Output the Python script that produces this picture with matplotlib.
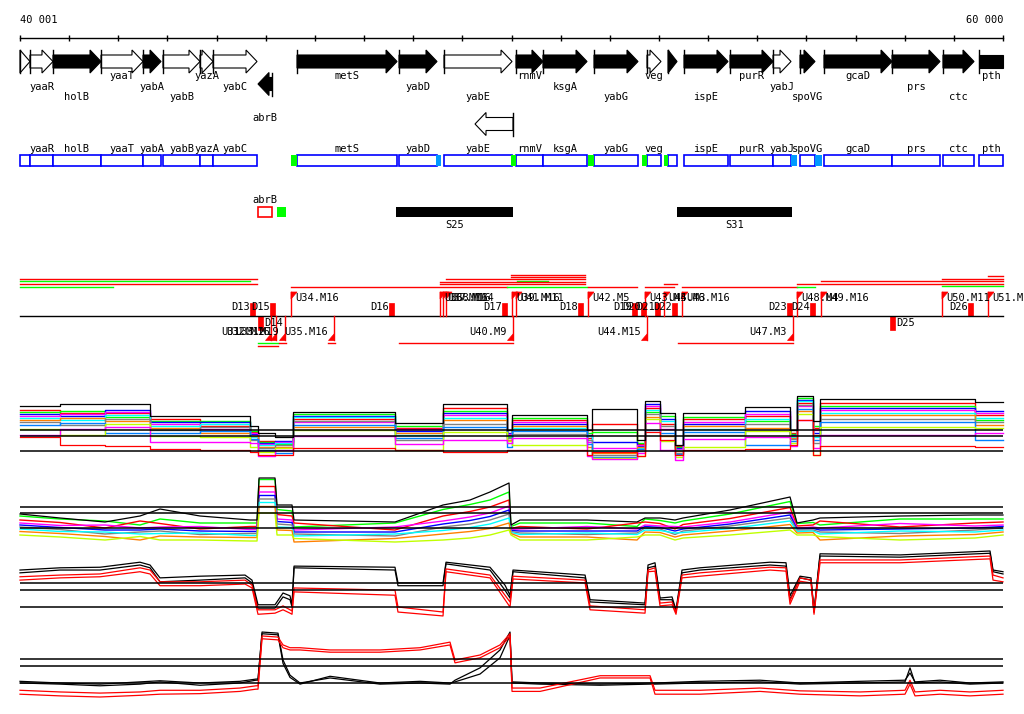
import matplotlib
matplotlib.use('Agg')
import matplotlib.pyplot as plt
from matplotlib.patches import Polygon, Rectangle

# region shown (bp) and visible x range
START, END = 40001, 60000
XMIN, XMAX = 39594, 60427

# ---------------- genes ----------------
gene_name = ['', 'yaaR', 'holB', 'yaaT', 'yabA', 'yabB', 'yazA', 'yabC', 'abrB',
             'metS', 'yabD', 'yabE', '', 'rnmV', 'ksgA', 'yabG', 'veg', '', 'ispE',
             'purR', 'yabJ', 'spoVG', 'gcaD', 'prs', 'ctc', 'pth']
gene_start = [40001, 40204, 40672, 41649, 42503, 42910, 43663, 43928, 44843,
              45637, 47712, 48627, 49258, 50092, 50641, 51679, 52757, 53185, 53510,
              54446, 55321, 55870, 56358, 57742, 58779, 59512]
gene_end = [40204, 40672, 41649, 42503, 42870, 43663, 43928, 44823, 45128,
            47672, 48485, 50011, 50031, 50641, 51537, 52574, 53042, 53368, 54405,
            55321, 55687, 56175, 57742, 58718, 59410, 60300]
gene_strand = [1, 1, 1, 1, 1, 1, 1, 1, -1, 1, 1, 1, -1, 1, 1, 1, 1, 1, 1,
               1, 1, 1, 1, 1, 1, 1]
gene_open = [True, True, False, True, False, True, True, True, False,
             False, False, True, True, False, False, False, True, False, False,
             False, True, False, False, False, False, False]
gene_lane = [0, 0, 0, 0, 0, 0, 0, 0, 1, 0, 0, 0, 2, 0, 0, 0, 0, 0, 0,
             0, 0, 0, 0, 0, 0, 0]
gene_label_row = [0, 1, 2, 0, 1, 2, 0, 1, 3, 0, 1, 2, 0, 0, 1, 2, 0, 1, 2,
                  0, 1, 2, 0, 1, 2, 0]

# small coloured marks on the gene-box row
mark_start = [45515, 49990, 51557, 52656, 53103, 48465, 55687, 56175]
mark_end = [45637, 50092, 51679, 52757, 53185, 48566, 55809, 56318]
mark_color = ['#00ff00', '#00ff00', '#00ff00', '#00ff00', '#00ff00',
              '#0099ff', '#0099ff', '#0099ff']

# segments
seg_name = ['S25', 'S31']
seg_start = [47651, 53368]
seg_end = [50031, 55708]

# transcription-unit lines: (y row, start, end, colour)
tu_lines = [(279, 40001, 44823, 'red'), (281, 40001, 44680, 'lime'),
            (284, 40001, 44823, 'red'), (287, 40001, 41893, 'lime'),
            (275, 49990, 51497, 'red'), (277, 49990, 51497, 'red'),
            (279, 48668, 51497, 'red'), (281, 50112, 50743, 'lime'),
            (282, 48546, 51497, 'red'), (284, 48546, 51497, 'red'),
            (287, 45515, 49909, 'red'), (287, 49909, 51537, 'lime'),
            (287, 51557, 52554, 'red'), (287, 52717, 53307, 'red'),
            (284, 53103, 53368, 'red'), (287, 53469, 55809, 'red'),
            (287, 55809, 56175, 'lime'), (284, 55809, 60000, 'red'),
            (281, 56297, 60000, 'red'), (279, 58759, 60000, 'red'),
            (276, 59695, 60000, 'red'), (286, 58759, 60000, 'lime'),
            (343, 44843, 45250, 'lime'), (346, 44843, 45250, 'red'),
            (343, 45270, 45413, 'red'), (343, 46266, 46409, 'red'),
            (343, 47712, 50031, 'red'), (343, 53388, 55728, 'red')]

up_name = ['U34.M16', 'U36.M16', 'U37.M16', 'U38.M14', 'U39.M16', 'U41.M11', 'U42.M5',
           'U43.M4', 'U45.M3', 'U46.M16', 'U48.M4', 'U49.M16', 'U50.M11', 'U51.M16']
up_pos = [45515, 48546, 48607, 48668, 50011, 50092, 51557,
          52717, 53103, 53469, 55809, 56297, 58759, 59695]
down_name = ['U31.M12', 'U32.M16', 'U33.M19', 'U35.M16', 'U40.M9', 'U44.M15', 'U47.M3']
down_pos = [45108, 45209, 45392, 46389, 50031, 52757, 55728]
dup_name = ['D13', 'D15', 'D16', 'D17', 'D18', 'D19', 'D20', 'D21', 'D22', 'D23', 'D24', 'D26']
dup_pos = [44680, 45087, 47508, 49807, 51354, 52452, 52635, 52920, 53266, 55605, 56073, 59288]
ddown_name = ['D14', 'D25']
ddown_pos = [44843, 57701]

# ---------------- expression profiles ----------------
# track A: step profiles between these boundaries
a_x = [40001, 40815, 41730, 42646, 43663, 44680, 44843, 45189, 45555, 47630, 48607,
       49909, 50011, 51537, 51638, 52554, 52717, 53022, 53327, 53490, 54751, 55667,
       55809, 56135, 56277, 59430, 60000]
a_top = [9.0, 9.4, 9.4, 7.0, 7.0, 5.0, 3.6, 2.8, 7.8, 5.6, 9.4, 4.2, 7.2, 4.2, 8.4, 2.2,
         10.0, 7.6, 1.2, 7.6, 8.8, 4.2, 11.0, 6.0, 10.4, 9.8]
a_low = [2.8, 1.2, 1.0, 0.4, 0.2, -0.2, -0.8, -0.8, 0.6, 0.2, -0.2, 0.2, 0.2, -0.8, -0.2,
         -1.0, 3.8, 2.2, -0.8, 0.2, 0.4, 1.2, 6.2, -0.8, 1.0, 0.8]
a_lines = [
    [8.2, 7.7, 7.6, 6.5, 5.1, 3.9, 2.1, 1.8, 6.5, 4.7, 8.6, 3.3, 6.2, 2.6, 5.4, 1.5, 8.7, 5.5, 1.1, 6.4, 7.0, 3.7, 9.7, 4.6, 9.6, 7.2],
    [7.9, 8.1, 6.9, 6.1, 6.1, 4.1, 1.9, 1.4, 7.5, 5.1, 8.1, 2.8, 6.6, 3.7, 3.9, 1.7, 7.9, 7.0, 0.9, 6.8, 6.0, 3.5, 10.7, 5.0, 9.1, 6.3],
    [7.5, 7.0, 8.3, 5.8, 5.8, 3.4, 1.7, 2.1, 7.1, 4.0, 7.7, 3.7, 5.4, 3.3, 1.9, 1.1, 9.4, 6.5, 0.7, 5.5, 8.0, 3.3, 10.3, 3.7, 8.7, 8.0],
    [7.1, 7.4, 7.9, 5.4, 4.4, 3.6, 1.4, 1.9, 5.8, 4.4, 7.2, 3.5, 5.8, 1.9, 0.7, 1.3, 9.1, 4.4, 0.5, 5.9, 7.5, 3.1, 9.0, 4.2, 8.2, 7.6],
    [6.7, 6.2, 7.2, 5.1, 5.5, 2.8, 1.2, 1.6, 6.8, 3.2, 6.7, 3.1, 4.6, 3.0, 0.0, 0.7, 8.3, 6.0, 0.2, 4.5, 6.5, 2.9, 10.0, 2.8, 7.7, 6.7],
    [6.3, 6.6, 6.0, 4.7, 3.6, 3.1, 0.9, 0.9, 4.8, 3.6, 6.2, 2.3, 5.0, 0.9, -0.4, 0.9, 6.9, 3.0, 0.0, 5.0, 4.7, 2.7, 8.0, 3.3, 7.2, 5.2],
    [5.8, 5.2, 6.5, 4.2, 4.8, 2.2, 0.6, 1.2, 6.1, 2.2, 5.5, 2.6, 3.4, 2.3, -0.8, 0.1, 7.4, 5.0, -0.3, 3.3, 5.4, 2.4, 9.3, 1.6, 6.5, 5.8],
    [5.3, 5.7, 3.6, 3.7, 4.0, 2.5, 0.3, -0.4, 5.3, 2.7, 4.8, 0.8, 4.0, 1.4, -1.1, 0.4, 4.2, 3.7, -0.6, 3.9, 1.2, 2.1, 8.5, 2.2, 5.8, 2.2],
    [4.5, 3.2, 5.5, 3.0, 2.9, 0.8, -0.2, 0.6, 4.2, 0.2, 3.9, 2.0, 1.2, 0.2, -1.4, -1.0, 6.4, 2.0, -1.1, 0.8, 4.0, 1.7, 7.4, -0.8, 4.9, 4.6],
    [3.2, 4.5, 4.8, 1.8, 1.8, 1.7, -1.0, 0.3, 3.0, 1.4, 2.2, 1.6, 2.6, -1.0, -1.6, -0.3, 5.6, 0.2, -1.8, 2.4, 2.9, 1.0, 6.2, 0.7, 3.2, 3.7],
]
a_colors = ['#ff0000', '#00ff00', '#0000ff', '#ff00ff', '#00ffff', '#ff8000',
            '#808080', '#0080ff', '#c0ff00', '#ff00ff']

# track B: polyline points
b_x = [40001, 40815, 41730, 42442, 42849, 43663, 44680, 44823, 44864, 45189, 45230,
       45535, 45576, 47630, 48607, 49156, 49563, 49950, 49990, 50174, 51537, 52554,
       52717, 53022, 53327, 53490, 54446, 55667, 55809, 56135, 56277, 57905, 59430, 60000]
b_top = [2.8, 2.0, 1.2, 2.4, 3.8, 2.4, 1.6, 1.6, 10.0, 10.0, 4.6, 4.6, 1.6, 1.2, 4.6, 5.6,
         7.2, 9.0, 0.6, 1.6, 1.6, 1.2, 2.0, 2.0, 1.6, 2.0, 3.6, 6.2, 1.0, 1.6, 2.0, 2.4, 2.6, 2.6]
b_lines = [
    [2.4, 1.8, 1.4, 0.6, 1.8, 1.0, 1.0, 1.0, 9.7, 9.7, 3.7, 3.4, 0.2, 1.0, 3.7, 4.7, 5.6, 7.2, 0.3, 1.0, 1.0, 0.3, 1.8, 1.5, 1.0, 1.4, 2.8, 5.3, 0.9, 1.1, 0.6, 1.8, 1.8, 1.8],
    [1.6, 1.1, 0.0, 1.4, 0.9, -0.2, 0.3, 0.3, 8.3, 8.3, 2.7, 2.4, 1.0, -0.4, 2.4, 3.3, 4.2, 5.6, -0.1, 0.3, -0.2, 1.0, 1.2, 0.9, -0.2, 0.7, 1.9, 4.1, 0.4, 0.6, 1.4, 0.2, 1.0, 1.2],
    [1.0, 0.5, 0.6, 0.0, 0.2, 0.3, -0.3, -0.3, 7.2, 7.2, 1.8, 1.6, -0.4, 0.2, 1.4, 2.2, 3.0, 4.4, -0.3, -0.2, 0.3, -0.2, 0.6, 0.4, 0.3, 0.2, 1.2, 3.2, 0.0, 0.2, 0.0, 0.9, 0.4, 0.6],
    [0.6, 0.1, -0.4, -0.4, -0.2, -0.6, -0.7, -0.7, 6.5, 6.5, 1.3, 1.1, -0.8, -0.8, 0.8, 1.5, 2.3, 3.6, -0.5, -0.6, -0.6, -0.6, 0.3, 0.1, -0.6, -0.2, 0.8, 2.6, -0.2, -0.1, -0.4, -0.2, 0.0, 0.3],
    [0.2, -0.3, -1.2, -0.8, -0.6, -1.3, -1.1, -1.1, 5.8, 5.8, 0.8, 0.6, -1.2, -1.6, 0.2, 0.8, 1.6, 2.8, -0.7, -1.0, -1.3, -1.0, 0.0, -0.2, -1.3, -0.6, 0.4, 2.0, -0.4, -0.4, -0.8, -1.1, -0.4, 0.0],
    [-0.2, -0.7, -0.8, -1.2, -1.1, -1.0, -1.5, -1.5, 5.1, 5.1, 0.2, 0.1, -1.6, -1.2, -0.5, 0.1, 0.8, 2.0, -0.9, -1.3, -1.0, -1.3, -0.4, -0.5, -1.0, -0.9, -0.1, 1.4, -0.7, -0.6, -1.2, -0.6, -0.8, -0.4],
    [-0.7, -1.1, -1.7, -2.4, -1.6, -1.8, -1.9, -1.9, 4.3, 4.3, -0.4, -0.5, -2.8, -2.1, -1.2, -0.7, -0.1, 1.0, -1.1, -1.8, -1.8, -2.4, -0.8, -0.9, -1.8, -1.4, -0.6, 0.7, -1.0, -0.9, -2.4, -1.6, -1.3, -0.8],
    [-1.4, -1.8, -2.4, -1.7, -2.4, -2.4, -2.6, -2.6, 3.0, 3.0, -1.4, -1.4, -2.1, -2.8, -2.4, -2.0, -1.4, -0.4, -1.4, -2.4, -2.4, -1.8, -1.4, -1.4, -2.4, -2.0, -1.4, -0.4, -1.4, -1.4, -1.7, -2.4, -2.0, -1.4],
]
b_colors = ['#00ff00', '#ff0000', '#ff00ff', '#0000ff', '#808080', '#00ffff',
            '#ff8000', '#c0ff00']

# track C
c_x = [40001, 40815, 41629, 42442, 42646, 42849, 43663, 44579, 44721, 44843, 45189,
       45352, 45494, 45535, 45576, 47630, 47691, 48607, 48668, 49563, 49868, 49970,
       50031, 51497, 51598, 52717, 52778, 52920, 53022, 53266, 53347, 53469, 53835,
       55259, 55585, 55667, 55870, 56094, 56155, 56277, 57905, 59736, 59797, 60000]
c_black1 = [6.6, 7.0, 7.1, 8.0, 7.5, 5.2, 5.5, 5.7, 4.8, 0.4, 0.4, 2.5, 2.0, 0.4, 7.3,
            7.1, 4.3, 4.3, 8.0, 7.1, 3.9, 2.1, 6.6, 5.7, 1.3, 0.7, 7.5, 7.9, 1.6, 1.8,
            -0.5, 6.6, 7.0, 8.0, 7.9, 2.0, 5.5, 5.2, -0.7, 9.5, 9.3, 10.0, 6.6, 6.3]
c_black2 = [6.1, 6.6, 6.6, 7.5, 7.0, 4.5, 4.8, 5.2, 4.3, -0.2, -0.2, 1.8, 1.3, 0.0, 7.0,
            6.6, 3.8, 3.8, 7.7, 6.6, 3.0, 1.6, 6.3, 5.2, 0.9, 0.4, 7.0, 7.3, 1.3, 1.3,
            -0.9, 6.1, 6.6, 7.5, 7.3, 1.3, 5.2, 4.8, -0.9, 9.1, 8.9, 9.6, 6.3, 5.9]
c_red1 = [5.4, 5.7, 5.9, 7.0, 6.6, 4.5, 4.5, 4.8, 3.9, -0.5, -0.5, 0.2, -0.5, -0.7, 3.4,
          3.0, 0.0, -0.9, 6.8, 5.7, 2.1, 0.9, 5.5, 4.8, 0.2, -0.5, 6.6, 7.0, 0.7, 0.9,
          -0.9, 5.7, 6.1, 7.1, 7.0, 1.1, 5.2, 4.8, -0.9, 8.4, 8.4, 9.1, 5.7, 5.2]
c_red2 = [4.8, 5.2, 5.4, 6.3, 5.9, 3.8, 3.8, 4.1, 3.4, -1.3, -1.1, -0.5, -1.1, -1.3, 2.7,
          2.1, -0.9, -1.6, 6.3, 5.2, 1.3, 0.0, 5.0, 4.3, -0.5, -1.1, 6.3, 6.4, 0.2, 0.4,
          -1.3, 5.2, 5.5, 6.6, 6.4, 0.5, 4.6, 4.3, -1.3, 7.9, 7.9, 8.6, 4.8, 4.5]

# track D
d_x = [40001, 40815, 41629, 42442, 42849, 43663, 44477, 44802, 44843, 44925, 45250,
       45352, 45494, 45698, 46308, 47325, 48139, 48749, 48851, 49360, 49767, 49970,
       50011, 50581, 51802, 52819, 52920, 53835, 55056, 55870, 57091, 58006, 58108,
       58210, 58718, 59329, 60000]
d_black1 = [0, -0.2, -0.5, -0.2, 0.2, -0.4, 0, 0.5, 0.5, 9.1, 8.9, 4.1, 1.4, 0, 0.9, -0.2,
            0, -0.2, 0.5, 2.7, 5.9, 9.1, 0, -0.2, -0.4, -0.2, -0.2, 0, 0.2, -0.2, 0, 0.2,
            2.7, 0, 0.2, -0.2, 0]
d_black2 = [0.3, 0, -0.2, 0.2, 0.4, 0, 0.3, 0.7, 0.7, 8.8, 8.6, 3.5, 1.0, -0.2, 1.2, 0,
            0.3, 0, 0.2, 1.6, 4.5, 8.5, 0.2, 0, -0.2, 0, 0, 0.3, 0.5, 0, 0.3, 0.5, 1.8,
            0.2, 0.5, 0, 0.2]
d_red1 = [-1.3, -1.6, -1.8, -1.6, -1.3, -1.3, -0.9, -0.5, -0.5, 8.4, 8.2, 6.8, 6.3, 6.3,
          5.9, 5.9, 6.3, 7.3, 4.1, 5.0, 6.8, 8.8, -0.9, -0.9, 1.3, 1.3, -1.3, -1.3, -0.9,
          -1.4, -1.6, -1.3, 0.5, -1.6, -1.3, -1.6, -1.3]
d_red2 = [-2.0, -2.3, -2.5, -2.2, -2.0, -1.9, -1.5, -1.1, -1.1, 7.9, 7.7, 6.3, 5.9, 5.9,
          5.5, 5.5, 5.9, 6.8, 3.6, 4.5, 6.3, 8.4, -1.5, -1.5, 0.9, 0.9, -2.0, -2.0, -1.5,
          -2.0, -2.3, -2.0, -0.2, -2.3, -2.0, -2.3, -2.0]

ref_levels = [0, 3, 4.2]

# ---------------- drawing ----------------
FONT = dict(family='DejaVu Sans Mono', fontsize=7.5, color='black')
H = 714

fig = plt.figure(figsize=(10.24, 7.14), dpi=100)
ax = fig.add_axes([0, 0, 1, 1])
ax.set_xlim(XMIN, XMAX)
ax.set_ylim(H, 0)
ax.axis('off')
bpp = (XMAX - XMIN) / 1024.0   # bp per pixel

# ruler
ax.plot([START, END], [38, 38], color='black', lw=1)
ticks = list(range(START, END, 1000)) + [END]
ax.vlines(ticks, 35, 41, color='black', lw=1)
ax.text(START, 20, '40 001', ha='left', va='center', **FONT)
ax.text(END, 20, '60 000', ha='right', va='center', **FONT)

lane_y = [61.5, 84, 124]
label_y = [76, 86.5, 97, 118]
head = 11 * bpp
for i in range(len(gene_name)):
    s, e = gene_start[i], gene_end[i]
    yc = lane_y[gene_lane[i]]
    fc = 'white' if gene_open[i] else 'black'
    if gene_strand[i] == 1:
        if e > END:
            pts = [(s, yc - 6.5), (END, yc - 6.5), (END, yc + 6.5), (s, yc + 6.5)]
        elif e - s <= head:
            pts = [(s, yc - 11.5), (e, yc), (s, yc + 11.5)]
        else:
            pts = [(s, yc - 6.5), (e - head, yc - 6.5), (e - head, yc - 11.5), (e, yc),
                   (e - head, yc + 11.5), (e - head, yc + 6.5), (s, yc + 6.5)]
        tick_x = s
    else:
        if e - s <= head:
            pts = [(e, yc - 11.5), (s, yc), (e, yc + 11.5)]
        else:
            pts = [(e, yc - 6.5), (s + head, yc - 6.5), (s + head, yc - 11.5), (s, yc),
                   (s + head, yc + 11.5), (s + head, yc + 6.5), (e, yc + 6.5)]
        tick_x = e
    ax.add_patch(Polygon(pts, closed=True, facecolor=fc, edgecolor='black', lw=0.8))
    ax.plot([tick_x, tick_x], [yc - 11.5, yc + 11.5], color='black', lw=1)
    if gene_name[i]:
        ax.text((s + min(e, END)) / 2, label_y[gene_label_row[i]], gene_name[i],
                ha='center', va='center', **FONT)

    # gene boxes
    if gene_lane[i] == 0:
        ax.add_patch(Rectangle((s, 155), min(e, END) - s, 11, facecolor='white',
                               edgecolor='#0000ff', lw=1.2))
        if gene_name[i]:
            ax.text((s + min(e, END)) / 2, 149, gene_name[i], ha='center', va='center', **FONT)
    elif gene_name[i]:
        ax.add_patch(Rectangle((s, 207), e - s, 10, facecolor='white', edgecolor='red', lw=1.2))
        ax.text((s + e) / 2, 200, gene_name[i], ha='center', va='center', **FONT)

for s, e, c in zip(mark_start, mark_end, mark_color):
    ax.add_patch(Rectangle((s, 155), e - s, 11, facecolor=c, edgecolor='none', zorder=3))
ax.add_patch(Rectangle((45230, 207), 183, 10, facecolor='#00ff00', edgecolor='none'))

for n, s, e in zip(seg_name, seg_start, seg_end):
    ax.add_patch(Rectangle((s, 207), e - s, 10, facecolor='black', edgecolor='none'))
    ax.text((s + e) / 2, 225, n, ha='center', va='center', **FONT)

# transcription units / breakpoints
for y, s, e, c in tu_lines:
    ax.plot([s, e], [y, y], color=c, lw=1)
ax.plot([START, END], [316, 316], color='black', lw=1)

for n, x in zip(up_name, up_pos):
    ax.plot([x, x], [292, 316], color='red', lw=1)
    ax.add_patch(Polygon([(x, 292), (x + 6 * bpp, 292), (x, 299)], facecolor='red', edgecolor='red', lw=0.5))
    ax.text(x + 4 * bpp, 298, n, ha='left', va='center', **FONT)
for n, x in zip(down_name, down_pos):
    ax.plot([x, x], [316, 340], color='red', lw=1)
    ax.add_patch(Polygon([(x, 333), (x, 340), (x - 6 * bpp, 340)], facecolor='red', edgecolor='red', lw=0.5))
    ax.text(x - 6 * bpp, 332, n, ha='right', va='center', **FONT)
for n, x in zip(dup_name, dup_pos):
    ax.add_patch(Rectangle((x, 303), 5 * bpp, 13, facecolor='red', edgecolor='red', lw=0.5))
    ax.text(x, 307, n, ha='right', va='center', **FONT)
for n, x in zip(ddown_name, ddown_pos):
    ax.add_patch(Rectangle((x, 316), 5 * bpp, 14, facecolor='red', edgecolor='red', lw=0.5))
    ax.text(x + 6 * bpp, 323, n, ha='left', va='center', **FONT)


def track(zero_px, px_per_unit, lo, hi):
    bottom = zero_px - lo * px_per_unit
    top = zero_px - hi * px_per_unit
    t = fig.add_axes([0, 1 - bottom / H, 1, (bottom - top) / H])
    t.set_xlim(XMIN, XMAX)
    t.set_ylim(lo, hi)
    t.axis('off')
    t.hlines(ref_levels, START, END, color='black', lw=1.1, zorder=5)
    return t


# track A
ta = track(451, 5.0, -4, 12)
for vals, c in zip(a_lines, a_colors):
    ta.plot(a_x, vals + [vals[-1]], drawstyle='steps-post', color=c, lw=1.0)
ta.plot(a_x, a_low + [a_low[-1]], drawstyle='steps-post', color='#ff0000', lw=0.9)
ta.plot(a_x, a_top + [a_top[-1]], drawstyle='steps-post', color='black', lw=0.9)

# track B
tb = track(528, 5.0, -4, 12)
for vals, c in zip(b_lines, b_colors):
    tb.plot(b_x, vals, color=c, lw=1.0)
tb.plot(b_x, b_top, color='black', lw=0.9)

# track C
tc = track(607, 5.6, -4, 11)
tc.plot(c_x, c_black1, color='black', lw=0.9)
tc.plot(c_x, c_black2, color='black', lw=0.9)
tc.plot(c_x, c_red1, color='red', lw=0.9)
tc.plot(c_x, c_red2, color='red', lw=0.9)

# track D
td = track(683, 5.6, -4, 11)
td.plot(d_x, d_black1, color='black', lw=0.9)
td.plot(d_x, d_black2, color='black', lw=0.9)
td.plot(d_x, d_red1, color='red', lw=0.9)
td.plot(d_x, d_red2, color='red', lw=0.9)

fig.savefig('out.png', dpi=100, facecolor='white')
